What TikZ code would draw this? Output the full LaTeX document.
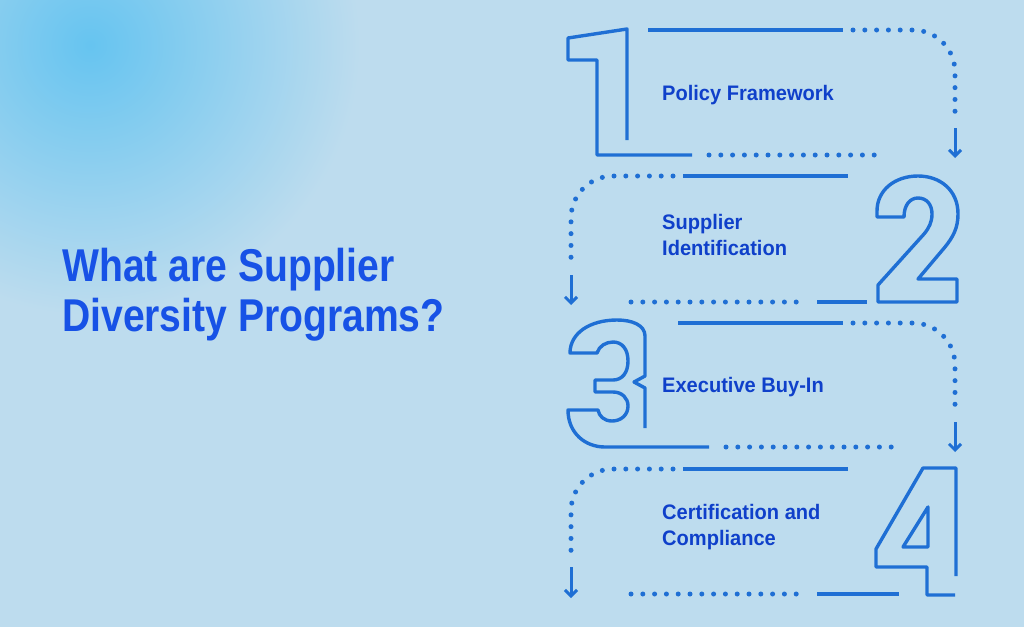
\documentclass[tikz,border=0pt]{standalone}
\usepackage{fontspec}
\usepackage{tikz}
\usetikzlibrary{arrows.meta, positioning}

\newfontfamily\titlefont{Liberation Sans}[FakeStretch=0.85]
\newfontfamily\stepfont{Liberation Sans}[FakeStretch=0.955]

\definecolor{bgblue}{HTML}{BDDCEE}
\definecolor{glowblue}{HTML}{66C4F0}
\definecolor{lineblue}{HTML}{1F6FD4}
\definecolor{titleblue}{HTML}{1752E6}
\definecolor{stepblue}{HTML}{0F40CA}

\begin{document}
\begin{tikzpicture}[
  x=1pt, y=-1pt,
  rule/.style = {draw=lineblue, line width=3.6pt},
  dots/.style = {draw=lineblue, line width=5pt, line cap=round, dash pattern=on 0pt off 11.8pt, rounded corners=42pt},
  digit/.style = {draw=lineblue, line width=3.4pt, line join=round},
  downarrow/.style = {draw=lineblue, line width=3pt, -{Straight Barb[length=6pt, width=12pt, line width=3pt]}},
  steplabel/.style = {anchor=west, align=left, inner sep=0pt, text=stepblue, font=\stepfont\bfseries\fontsize{21}{26}\selectfont}
  ]

  % background
  \fill[bgblue] (0,0) rectangle (1024,627);
  \begin{scope}
    \clip (0,0) rectangle (1024,627);
    \shade[inner color=glowblue, outer color=bgblue] (90,45) circle (270);
  \end{scope}
  \useasboundingbox (0,0) rectangle (1024,627);

  % title
  \node[anchor=west, align=left, inner sep=0pt, text=titleblue,
        font=\titlefont\bfseries\fontsize{46}{50}\selectfont] (title) at (62,295)
    {What are Supplier\\Diversity Programs?};

  % Step 1
  \draw[digit] (627,140) -- (627,29) -- (568,38) -- (568,60) -- (597,60) -- (597,155) -- (692,155);
  \draw[rule] (648,30) -- (843,30);
  \draw[dots] (853,30) -- (955,30) -- (955,117);
  \draw[downarrow] (955,128) -- (955,158);
  \draw[dots] (709,155) -- (875,155);
  \node[steplabel] (s1) at (662,95) {Policy Framework};

  % Step 2
  \draw[dots] (673,176) -- (571,176) -- (571,262);
  \draw[downarrow] (571,275) -- (571,305);
  \draw[rule] (683,176) -- (848,176);
  \draw[dots] (631,302) -- (799,302);
  \draw[rule] (817,302) -- (867,302);
  \draw[digit] (878,302) -- (957,302) -- (957,279) -- (918,279) -- (945,247)
    .. controls (953,237) and (958,228) .. (958,214)
    .. controls (958,190) and (940,176) .. (918,176)
    .. controls (895,176) and (877,190) .. (877,211) -- (877,217) -- (904,217)
    .. controls (904,205) and (910,198) .. (918,198)
    .. controls (927,198) and (932,205) .. (932,214)
    .. controls (932,222) and (929,228) .. (924,234) -- (878,285) -- cycle;
  \node[steplabel] (s2) at (662,235) {Supplier\\Identification};

  % Step 3
  \draw[digit] (645,428) -- (645,388) -- (634,382) -- (645,376) -- (645,336)
    .. controls (645,325) and (632,320) .. (617,320)
    .. controls (590,320) and (570,333) .. (570,353) -- (597,353)
    .. controls (599,346) and (606,342) .. (613,342)
    .. controls (622,342) and (628,349) .. (628,361)
    .. controls (628,373) and (622,380) .. (613,380) -- (595,380) -- (595,392) -- (613,392)
    .. controls (622,392) and (628,398) .. (628,406)
    .. controls (628,415) and (621,421) .. (612,421)
    .. controls (604,421) and (599,416) .. (598,410) -- (568,410)
    .. controls (568,433) and (585,447) .. (605,447) -- (709,447);
  \draw[rule] (678,323) -- (843,323);
  \draw[dots] (853,323) -- (955,323) -- (955,409);
  \draw[downarrow] (955,422) -- (955,452);
  \draw[dots] (726,447) -- (893,447);
  \node[steplabel] (s3) at (662,387) {Executive Buy-In};

  % Step 4
  \draw[dots] (673,469) -- (571,469) -- (571,556);
  \draw[downarrow] (571,567) -- (571,598);
  \draw[rule] (683,469) -- (848,469);
  \draw[dots] (631,594) -- (799,594);
  \draw[rule] (817,594) -- (899,594);
  \draw[digit] (956,576) -- (956,468) -- (923,468) -- (876,549) -- (876,567) -- (927,567) -- (927,595) -- (955,595);
  \draw[digit] (903,547) -- (928,507) -- (928,547) -- cycle;
  \node[steplabel] (s4) at (662,527) {Certification and\\Compliance};

\end{tikzpicture}
\end{document}
